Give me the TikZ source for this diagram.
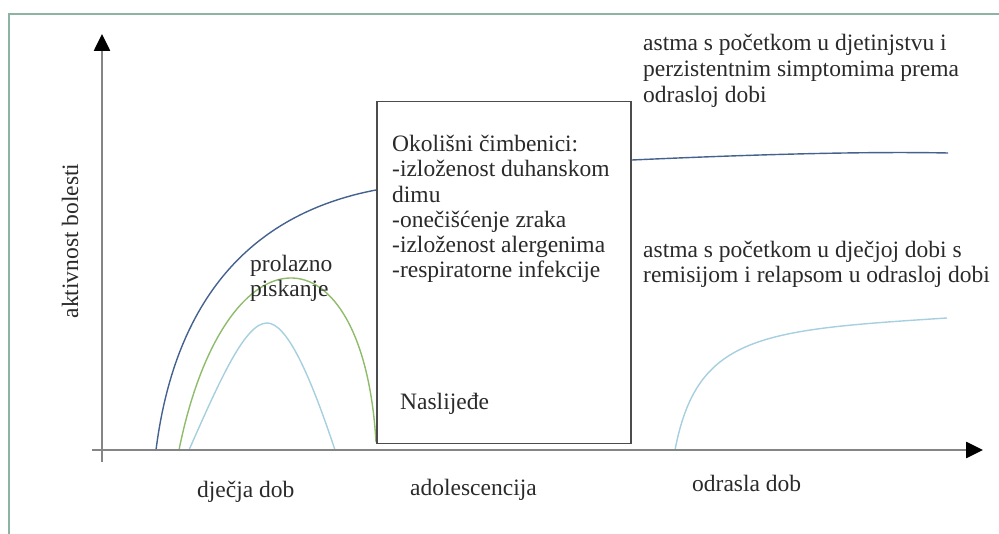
\documentclass[tikz,border=0pt]{standalone}
\usepackage{fontspec}
\setmainfont{Liberation Serif}
\usetikzlibrary{arrows.meta}
\definecolor{framec}{HTML}{8DB3A3}
\definecolor{axisc}{HTML}{858585}
\definecolor{darkblue}{HTML}{45628F}
\definecolor{leafgreen}{HTML}{8FBC6A}
\definecolor{paleblue}{HTML}{A6CFDF}
\definecolor{txt}{HTML}{2A2A2A}
\begin{document}
\begin{tikzpicture}[x=1pt,y=-1pt,
  axisline/.style={draw=axisc,line width=2.6pt,-{Triangle[length=17pt,width=16pt,black]}},
  curve/.style={line width=1.4pt},
  lbl/.style={inner sep=0pt,anchor=base west,text=txt,font=\fontsize{23.5}{25}\selectfont},
  boxst/.style={draw=black!70,line width=1.5pt,fill=white,inner sep=0pt,anchor=north west,minimum width=254pt,minimum height=342pt}]
\useasboundingbox (0,0) rectangle (999,534);
% frame
\coordinate (fbl) at (9,540);
\coordinate (ftl) at (9,14);
\coordinate (ftr) at (1005,14);
\draw[framec,line width=2pt] (fbl) -- (ftl) -- (ftr);
% curves
\coordinate (b0) at (156,450);
\coordinate (b1) at (376,190);
\coordinate (b2) at (632,160);
\coordinate (b3) at (948,153);
\draw[darkblue,curve] (b0) .. controls (175,300) and (250,214) .. (b1);
\draw[darkblue,curve] (b2) .. controls (720,156) and (850,151) .. (b3);
\coordinate (g0) at (179,450);
\coordinate (g1) at (376,442);
\draw[leafgreen,curve] (g0) .. controls (225,222) and (363,222) .. (g1);
\coordinate (p0) at (189,450);
\coordinate (pt) at (267,323);
\coordinate (p1) at (335,450);
\draw[paleblue,curve] (p0) .. controls (220,380) and (245,323) .. (pt)
  .. controls (287,323) and (310,375) .. (p1);
\coordinate (q0) at (675,450);
\coordinate (q1) at (947,318);
\draw[paleblue,curve] (q0) .. controls (697,335) and (760,330) .. (q1);
% axes
\coordinate (ya) at (102,462);
\coordinate (yb) at (102,34);
\coordinate (xa) at (92,450);
\coordinate (xb) at (983,450);
\draw[axisline] (ya) -- (yb);
\draw[axisline] (xa) -- (xb);
% box
\node (box) [boxst] at (376,101) {};
\node (t1) [lbl] at (392,152) {Okolišni čimbenici:};
\node (t2) [lbl] at (392,177) {-izloženost duhanskom};
\node (t3) [lbl] at (392,203) {dimu};
\node (t4) [lbl] at (392,228) {-onečišćenje zraka};
\node (t5) [lbl] at (392,253) {-izloženost alergenima};
\node (t6) [lbl] at (392,278) {-respiratorne infekcije};
\node (nas) [lbl] at (400,410) {Naslijeđe};
% other labels
\node (pr1) [lbl] at (250,272) {prolazno};
\node (pr2) [lbl] at (250,297) {piskanje};
\node (a1) [lbl] at (643,51) {astma s početkom u djetinjstvu i};
\node (a2) [lbl] at (643,77) {perzistentnim simptomima prema};
\node (a3) [lbl] at (643,103) {odrasloj dobi};
\node (r1) [lbl] at (643,258) {astma s početkom u dječjoj dobi s};
\node (r2) [lbl] at (643,283) {remisijom i relapsom u odrasloj dobi};
\node (yl) [lbl,rotate=90,anchor=base] at (78,241) {aktivnost bolesti};
\node (x1) [lbl] at (197,497) {dječja dob};
\node (x2) [lbl] at (410,496) {adolescencija};
\node (x3) [lbl] at (692,492) {odrasla dob};
\end{tikzpicture}
\end{document}
